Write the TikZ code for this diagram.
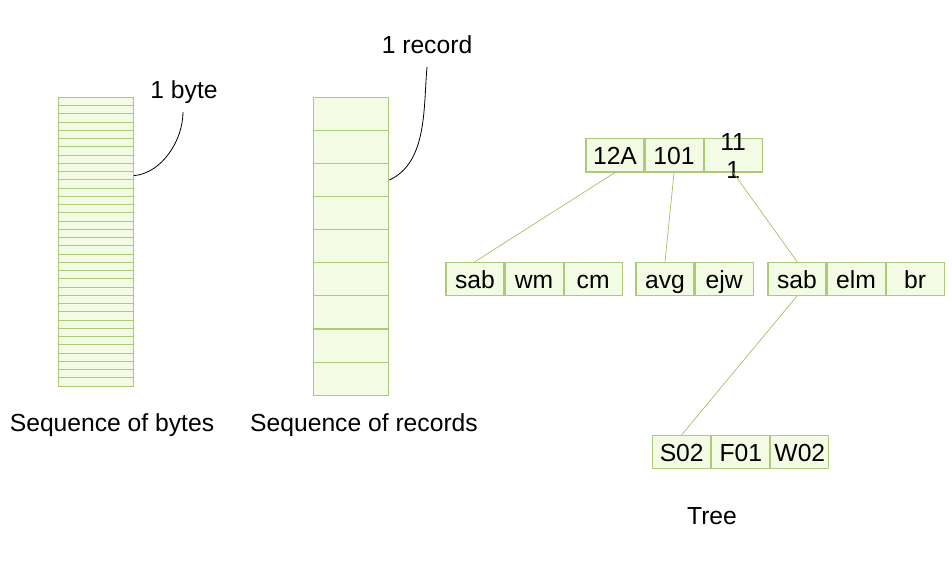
\documentclass[tikz,border=0pt]{standalone}
\usepackage{fontspec}
\setmainfont{Liberation Sans}
\usetikzlibrary{positioning}

\definecolor{cellfill}{RGB}{244,251,228}
\definecolor{cellline}{RGB}{172,203,120}
\definecolor{linkline}{RGB}{160,190,95}

\tikzset{
  bytecell/.style={draw=cellline, fill=cellfill, line width=0.7pt, inner sep=0pt,
    minimum width=56.25pt, minimum height=6.19pt},
  reccell/.style={draw=cellline, fill=cellfill, line width=0.8pt, inner sep=0pt,
    minimum width=56.25pt, minimum height=24.8pt},
  key/.style={draw=cellline, fill=cellfill, line width=0.8pt, inner sep=0pt,
    minimum width=43.5pt, minimum height=25pt, text height=17pt, text depth=3pt,
    font=\fontsize{18.5}{21}\selectfont},
  link/.style={draw=linkline, line width=0.5pt},
  callout/.style={draw=black, line width=0.6pt},
  caption/.style={font=\fontsize{18.5}{21}\selectfont}
}

\begin{document}
\begin{tikzpicture}[x=0.75pt, y=-0.75pt]
\useasboundingbox (0,0) rectangle (952,560);

% sequence of bytes
\foreach \i in {1,...,35}
  \node[bytecell] (b\i) at (95.8, {97.3+8.25*(\i-0.5)}) {};
\node[caption] (bytelbl) at (184, 92) {1 byte};
\coordinate (bytetip) at (183, 112);
\draw[callout] (b10.east) to[out=5, in=-90, looseness=0.9] (bytetip);
\node[caption] (bytecap) at (112, 425) {Sequence of bytes};

% sequence of records
\foreach \i in {1,...,9}
  \node[reccell] (r\i) at (351.3, {97.3+33.1*(\i-0.5)}) {};
\node[caption] (reclbl) at (427, 45) {1 record};
\coordinate (rectip) at (427, 67);
\draw[callout] (r3.east) to[out=25, in=-95, looseness=0.9] (rectip);
\node[caption] (reccap) at (364, 425) {Sequence of records};

% tree
\node[key] (k12a) at (615, 155.3) {12A};
\node[key, right=0pt of k12a] (k101) {101};
\node[key, right=0pt of k101] (k111)
  {\smash{\begin{tabular}{@{}c@{}}11\\[0pt]1\end{tabular}}};

\node[key] (sab1) at (475, 278.8) {sab};
\node[key, right=0pt of sab1] (wm) {wm};
\node[key, right=0pt of wm] (cm) {cm};

\node[key] (avg) at (665, 278.8) {avg};
\node[key, right=0pt of avg] (ejw) {ejw};

\node[key] (sab2) at (797, 278.8) {sab};
\node[key, right=0pt of sab2] (elm) {elm};
\node[key, right=0pt of elm] (br) {br};

\node[key] (s02) at (681.7, 452) {S02};
\node[key, right=0pt of s02] (f01) {F01};
\node[key, right=0pt of f01] (w02) {W02};

\draw[link] (k12a.south) -- (sab1.north);
\draw[link] (k101.south) -- (avg.north);
\draw[link] (k111.south) -- (sab2.north);
\draw[link] (sab2.south) -- (s02.north);

\node[caption] (treecap) at (712, 516) {Tree};
\end{tikzpicture}
\end{document}
